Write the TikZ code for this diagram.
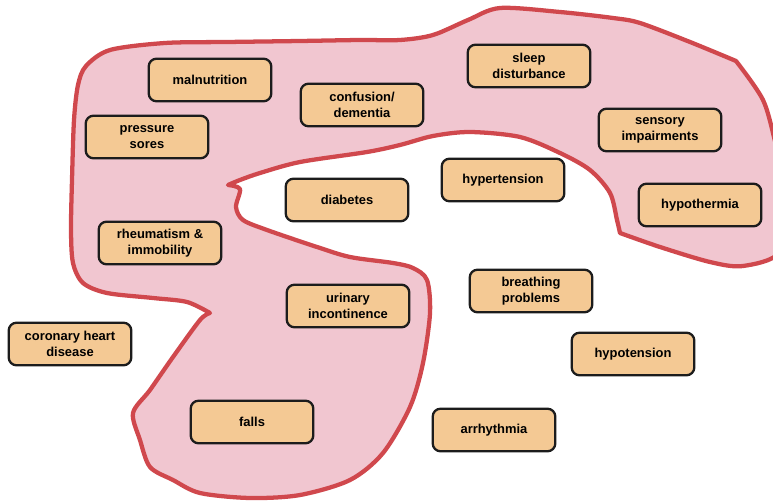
\documentclass[tikz,border=0pt]{standalone}
\usepackage{fontspec}
\setmainfont{Liberation Sans}
\begin{document}
\definecolor{blobfill}{HTML}{F1C6D0}
\definecolor{blobline}{HTML}{D0484D}
\definecolor{boxfill}{HTML}{F4C994}
\definecolor{boxline}{HTML}{1C1C1C}
\begin{tikzpicture}[x=0.75pt,y=-0.75pt,
  condition/.style={rectangle, rounded corners=6pt, draw=boxline, line width=1.7pt,
    fill=boxfill, minimum width=92pt, minimum height=32pt, align=center,
    inner sep=2pt, font=\fontsize{9.7}{12}\selectfont\bfseries},
  region/.style={fill=blobfill, draw=blobline, line width=3.2pt, line join=round}]
\useasboundingbox (0,0) rectangle (773,502);
\begin{scope}
\clip (0,0) rectangle (773,502);
% pink region: outer rim, the inner notch and the lower lobe
\path[region]
  plot[smooth, tension=0.5] coordinates {(210,313) (187,302) (153,298) (107,293)
    (83,283) (73,263) (71,230) (72,180) (74,120) (78,85) (86,66) (110,50) (165,43)
    (227,42) (300,41) (360,40) (400,40) (433,35) (468,20) (500,8) (560,12) (613,18)
    (640,23) (690,42) (736,61)}
  -- plot[smooth, tension=0.5] coordinates {(736,61) (763,100) (776,145) (790,200)
    (780,252) (743,266) (710,262) (660,247) (620,233)}
  -- plot[smooth, tension=0.5] coordinates {(620,233) (617,220) (610,193) (590,170)
    (560,153) (520,137) (470,132) (433,136) (400,145) (367,152) (300,162) (260,173)
    (240,180) (228,185)}
  -- plot[smooth, tension=0.5] coordinates {(228,185) (240,189) (236,207) (243,220)
    (267,230) (317,247) (350,257) (393,263) (413,268) (427,280) (430,313) (423,363)
    (410,407) (383,453) (350,480) (300,495) (250,498) (200,493) (173,480) (150,467)
    (140,440) (133,413) (150,390) (173,357) (200,320) (210,313)}
  -- cycle;
\end{scope}
% conditions
\node[condition] (maln) at (210,80) {malnutrition};
\node[condition] (pres) at (147,137) {pressure\\sores};
\node[condition] (conf) at (362,105) {confusion/\\dementia};
\node[condition] (sleep) at (529,66) {sleep\\disturbance};
\node[condition] (sens) at (660,130) {sensory\\impairments};
\node[condition] (hypo) at (700,205) {hypothermia};
\node[condition] (hypert) at (503,180) {hypertension};
\node[condition] (diab) at (347,200) {diabetes};
\node[condition] (rheu) at (160,243) {rheumatism \&\\immobility};
\node[condition] (urin) at (348,306) {urinary\\incontinence};
\node[condition] (breath) at (531,291) {breathing\\problems};
\node[condition] (hypot) at (633,354) {hypotension};
\node[condition] (chd) at (70,344) {coronary heart\\disease};
\node[condition] (falls) at (252,422) {falls};
\node[condition] (arrh) at (494,430) {arrhythmia};
\end{tikzpicture}
\end{document}
